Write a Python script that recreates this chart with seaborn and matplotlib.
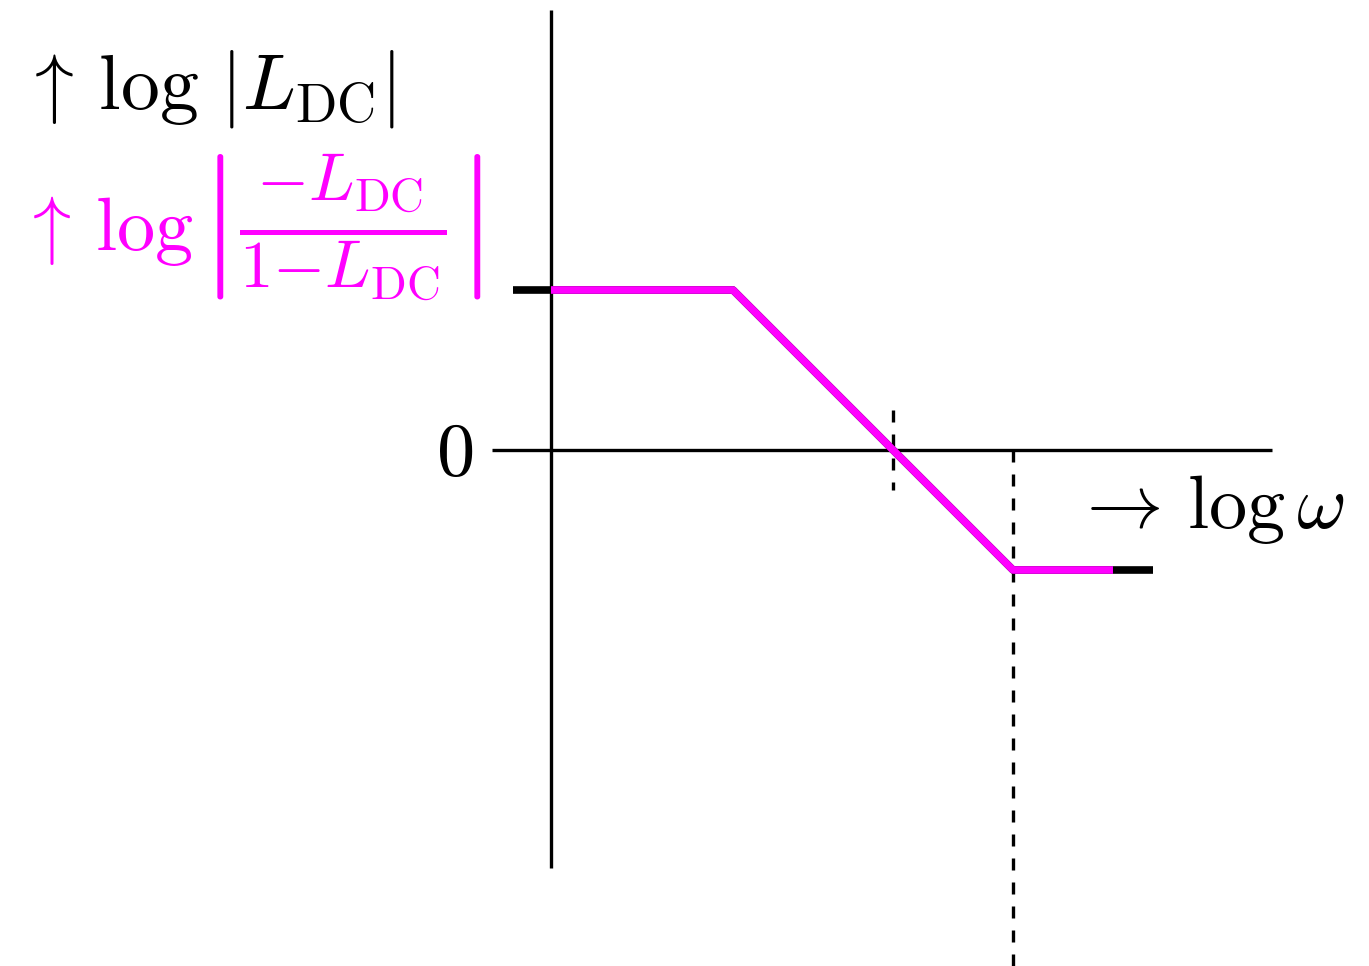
import matplotlib
matplotlib.use("Agg")
import matplotlib.pyplot as plt
import seaborn as sns
import pandas as pd

# Asymptotic magnitude plots (log-log units)
loop_x = [-0.95, 4.55, 11.55, 15.05]          # |L_DC|
loop_y = [4.0, 4.0, -3.0, -3.0]
closed_x = [0.0, 4.55, 11.55, 14.05]          # |-L_DC / (1 - L_DC)|
closed_y = [4.0, 4.0, -3.0, -3.0]
crossover_x = 8.55                            # where the slope crosses 0
corner_x = 11.55                              # second break frequency

MAGENTA = "#FF00FF"

sns.set_theme(style="white")
plt.rcParams["mathtext.fontset"] = "cm"
plt.rcParams["font.family"] = ["DejaVu Sans"]

fig = plt.figure(figsize=(13.69, 9.66), dpi=100)
ax = fig.add_axes([0, 0, 1, 1])
ax.set_xlim(-13.775, 20.45)
ax.set_ylim(-12.9, 11.25)
ax.axis("off")

# coordinate axes
ax.plot([0, 0], [-10.45, 11.0], color="black", lw=2.4, solid_capstyle="butt")
ax.plot([-1.475, 18.025], [0, 0], color="black", lw=2.4, solid_capstyle="butt")

# dashed guides at crossover and corner frequency
ax.plot([crossover_x, crossover_x], [1.0, -1.0], color="black", lw=2.4,
        dashes=(3.6, 3.6), dash_capstyle="butt")
ax.plot([corner_x, corner_x], [0, -12.9], color="black", lw=2.4,
        dashes=(3.6, 3.6), dash_capstyle="butt")

df_loop = pd.DataFrame({"x": loop_x, "y": loop_y})
df_closed = pd.DataFrame({"x": closed_x, "y": closed_y})
sns.lineplot(data=df_loop, x="x", y="y", ax=ax, color="black", lw=5.5,
             sort=False, estimator=None, solid_capstyle="butt")
sns.lineplot(data=df_closed, x="x", y="y", ax=ax, color=MAGENTA, lw=5.5,
             sort=False, estimator=None, solid_capstyle="butt")

# labels
ax.text(-13.25, 8.55, r"$\uparrow\,\log\,|L_{\mathrm{DC}}|$", fontsize=56,
        color="black", va="baseline", ha="left")
ax.text(-13.3, 5.0, r"$\uparrow\,\log$", fontsize=55, color=MAGENTA,
        va="baseline", ha="left")
ax.text(-8.8, 5.55,
        r"$\left|\frac{-L_{\mathrm{DC}}}{1{-}L_{\mathrm{DC}}}\right|$",
        fontsize=69, color=MAGENTA, va="center", ha="left")
ax.text(-1.95, -0.625, r"$0$", fontsize=55, color="black", va="baseline", ha="right")
ax.text(13.05, -1.95, r"$\rightarrow\,\log\omega$", fontsize=55, color="black",
        va="baseline", ha="left")

fig.savefig("out.png", dpi=100)
